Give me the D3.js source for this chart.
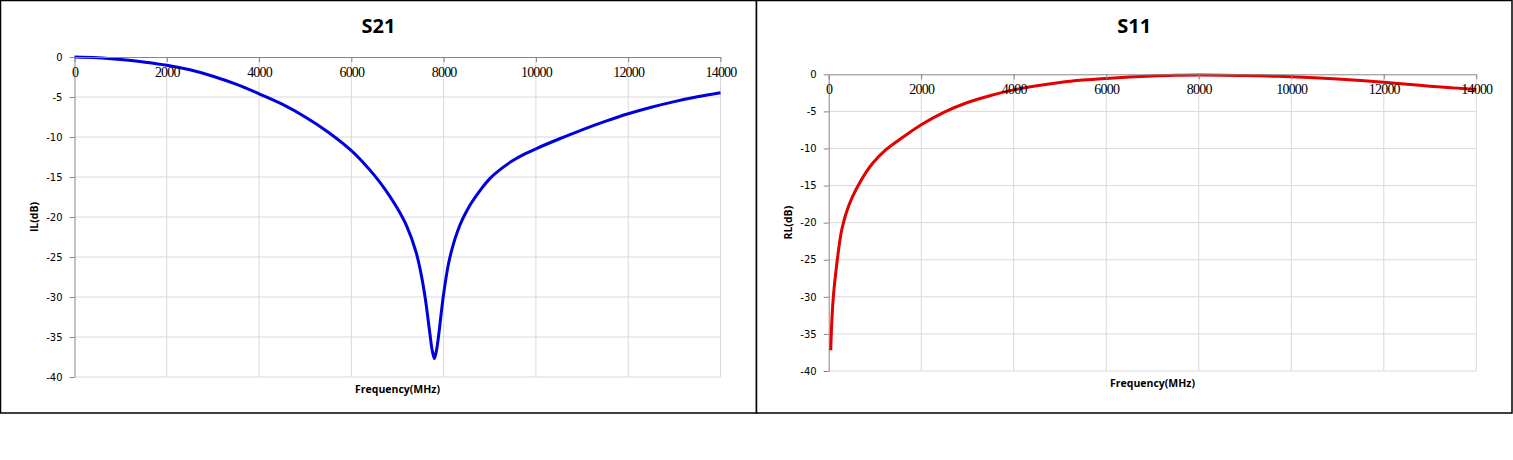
<!DOCTYPE html>
<html>
<head>
<meta charset="utf-8">
<script src="https://cdn.jsdelivr.net/npm/d3@7/dist/d3.min.js"></script>
<style>
  html, body { margin: 0; padding: 0; background: #fff; }
  svg { display: block; }
</style>
</head>
<body>
<svg id="chart" width="1513" height="460"></svg>
<script>
// S21 insertion loss
const s21Freq = [0, 500, 1000, 1500, 2000, 2500, 3000, 3500, 4000, 4500, 5000, 5500, 6000,
    6250, 6500, 6750, 7000, 7200, 7400, 7500, 7600, 7700, 7750, 7800, 7850, 7900, 7950, 8000,
    8100, 8200, 8300, 8400, 8500, 8600, 8800, 9000, 9250, 9500, 9750, 10000, 10500, 11000,
    11500, 12000, 12500, 13000, 13500, 14000];
const s21Loss = [0, -0.08, -0.3, -0.62, -1.02, -1.6, -2.4, -3.4, -4.6, -5.9, -7.5, -9.4, -11.7,
    -13.15, -14.8, -16.7, -18.95, -21.15, -24.35, -26.8, -30.1, -34.5, -36.6, -37.7, -36.5,
    -34.4, -31.9, -29.6, -26.0, -23.6, -21.8, -20.4, -19.25, -18.25, -16.6, -15.2, -13.95,
    -12.95, -12.15, -11.47, -10.25, -9.1, -8.05, -7.1, -6.28, -5.58, -4.98, -4.48];

// S11 return loss
const s11Freq = [45, 65, 100, 150, 200, 265, 300, 373, 500, 700, 950, 1250, 1600, 2000, 2500,
    3000, 3500, 4000, 4500, 5000, 5500, 6000, 6500, 7000, 7500, 8000, 8500, 9000, 9500, 10000,
    10500, 11000, 11500, 12000, 12500, 13000, 13500, 14000];
const s11Loss = [-37.2, -33.6, -30.0, -26.9, -24.3, -21.5, -20.5, -18.8, -16.7, -14.3, -12.0,
    -10.1, -8.5, -6.8, -5.1, -3.8, -2.85, -2.1, -1.55, -1.1, -0.78, -0.55, -0.36, -0.22, -0.14,
    -0.1, -0.12, -0.17, -0.24, -0.33, -0.47, -0.64, -0.85, -1.08, -1.33, -1.6, -1.83, -2.05];

const xTicks = [0, 2000, 4000, 6000, 8000, 10000, 12000, 14000];
const yTicks = [0, -5, -10, -15, -20, -25, -30, -35, -40];

const panels = [
    { title: 'S21', yLabel: 'IL(dB)', freq: s21Freq, loss: s21Loss, color: '#0000dd',
      box: [0.5, 0.5, 756, 412.5], plot: [74.5, 720.5, 57, 377], yTitleX: 34 },
    { title: 'S11', yLabel: 'RL(dB)', freq: s11Freq, loss: s11Loss, color: '#e30000',
      box: [756.5, 0.5, 755.5, 412.5], plot: [828.7, 1476.3, 74.3, 371], yTitleX: 788 },
];

const svg = d3.select('#chart');
const plain = d => String(d); // hyphen-minus like the original, not U+2212

panels.forEach((p) => {
    const [bx, by, bw, bh] = p.box;
    const [x0, x1, y0, y1] = p.plot;

    svg.append('rect')
        .attr('x', bx).attr('y', by)
        .attr('width', bw).attr('height', bh)
        .attr('fill', '#fff')
        .attr('stroke', '#000')
        .attr('stroke-width', 1.5);

    const x = d3.scaleLinear().domain([0, 14000]).range([x0, x1]);
    const y = d3.scaleLinear().domain([0, -40]).range([y0, y1]);

    const g = svg.append('g');

    // grid
    g.append('g').selectAll('line')
        .data(xTicks.slice(1))
        .join('line')
        .attr('x1', d => x(d)).attr('x2', d => x(d))
        .attr('y1', y0).attr('y2', y1)
        .attr('stroke', '#d9d9d9');
    g.append('g').selectAll('line')
        .data(yTicks.slice(1))
        .join('line')
        .attr('x1', x0).attr('x2', x1)
        .attr('y1', d => y(d)).attr('y2', d => y(d))
        .attr('stroke', '#d9d9d9');

    // y axis
    const yAxis = g.append('g')
        .attr('transform', `translate(${x0},0)`)
        .call(d3.axisLeft(y).tickValues(yTicks).tickFormat(plain)
            .tickSize(5).tickPadding(7).tickSizeOuter(0));
    yAxis.select('.domain').attr('stroke', '#868686');
    yAxis.selectAll('.tick line').attr('stroke', '#868686');
    yAxis.selectAll('text')
        .attr('font-family', '"DejaVu Sans", sans-serif')
        .attr('font-size', '10px')
        .attr('fill', '#000');

    // x axis sits on the 0 dB line, labels hang below it
    const xAxis = g.append('g')
        .attr('transform', `translate(0,${y(0)})`)
        .call(d3.axisBottom(x).tickValues(xTicks).tickFormat(plain)
            .tickSize(5).tickPadding(5).tickSizeOuter(0));
    xAxis.select('.domain').attr('stroke', '#868686');
    xAxis.selectAll('.tick line').attr('stroke', '#868686');

    // curve
    const line = d3.line()
        .x((d, i) => x(p.freq[i]))
        .y(d => y(d))
        .curve(d3.curveCatmullRom.alpha(0.5));
    g.append('path')
        .datum(p.loss)
        .attr('fill', 'none')
        .attr('stroke', p.color)
        .attr('stroke-width', 3)
        .attr('stroke-linejoin', 'round')
        .attr('d', line);

    // x tick labels drawn over the curve, like the original
    xAxis.raise();
    xAxis.selectAll('text')
        .attr('font-family', '"Liberation Serif", serif')
        .attr('font-size', '14px')
        .attr('letter-spacing', '-0.8px')
        .attr('fill', '#000');

    // titles
    svg.append('text')
        .attr('x', bx + bw / 2).attr('y', 33)
        .attr('text-anchor', 'middle')
        .attr('font-family', '"Open Sans", sans-serif')
        .attr('font-weight', 'bold')
        .attr('font-size', '20px')
        .text(p.title);

    svg.append('text')
        .attr('x', (x0 + x1) / 2).attr('y', y1 + 16)
        .attr('text-anchor', 'middle')
        .attr('font-family', '"Open Sans", sans-serif')
        .attr('font-weight', 'bold')
        .attr('font-size', '10.5px')
        .text('Frequency(MHz)');

    svg.append('text')
        .attr('transform', `translate(${p.yTitleX + 4},${(y0 + y1) / 2}) rotate(-90)`)
        .attr('text-anchor', 'middle')
        .attr('font-family', '"Open Sans", sans-serif')
        .attr('font-weight', 'bold')
        .attr('font-size', '10.5px')
        .text(p.yLabel);
});
</script>
</body>
</html>
